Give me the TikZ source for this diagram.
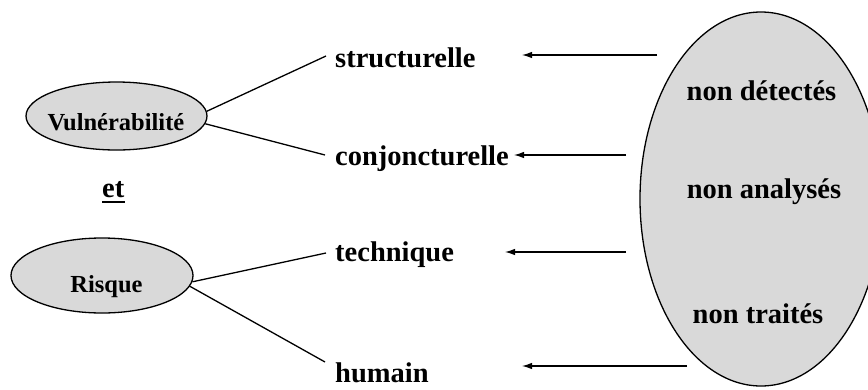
\documentclass[tikz,border=0pt]{standalone}
\usepackage{fontspec}
\setmainfont{Liberation Serif}
\usetikzlibrary{arrows.meta,shapes.geometric}
\definecolor{ellgray}{HTML}{D9D9D9}
\begin{document}
\begin{tikzpicture}[x=1pt,y=-1pt,
  ell/.style={ellipse, draw, line width=1.3pt, fill=ellgray, inner sep=0pt},
  maintext/.style={font=\fontsize{28.5}{30}\selectfont\bfseries, inner sep=0pt},
  smalltext/.style={font=\fontsize{24.5}{26}\selectfont\bfseries, inner sep=0pt},
  link/.style={line width=1.3pt},
  arr/.style={line width=1.2pt, -{Latex[length=10pt,width=6.5pt]}}]
\useasboundingbox (0,0) rectangle (868,389);

% ellipses
\node[ell, minimum width=181pt, minimum height=68pt] (vul) at (116.5,116) {};
\node[ell, minimum width=182pt, minimum height=75pt] (ris) at (102,275.5) {};
\node[ell, minimum width=242pt, minimum height=374pt] (big) at (761,199) {};

% ellipse texts
\node[smalltext, anchor=base] (vult) at (116,130) {Vulnérabilité};
\node[smalltext, anchor=base] (rist) at (106.5,292) {Risque};
\node[maintext, anchor=base] (nd) at (761.5,100) {non détectés};
\node[maintext, anchor=base] (na) at (764,198) {non analysés};
\node[maintext, anchor=base] (nt) at (758,323) {non traités};

% "et"
\node[maintext, anchor=base west] (et) at (102,197) {et};
\draw[line width=1.8pt] ([yshift=-5pt]et.base west) -- ([yshift=-5pt]et.base east);

% labels
\node[maintext, anchor=base west] (str) at (335,67) {structurelle};
\node[maintext, anchor=base west] (con) at (335,165) {conjoncturelle};
\node[maintext, anchor=base west] (tec) at (335,261) {technique};
\node[maintext, anchor=base west] (hum) at (335,382) {humain};

% links from left ellipses
\draw[link] (vul.3) -- ([xshift=-9pt,yshift=11pt]str.base west);
\draw[link] (vul.-5) -- ([xshift=-10pt,yshift=10pt]con.base west);
\draw[link] (ris.-4) -- ([xshift=-9pt,yshift=8pt]tec.base west);
\draw[link] (ris.-7) -- ([xshift=-10pt,yshift=20pt]hum.base west);

% arrows from the big ellipse
\coordinate (t1) at (657,55);  \coordinate (h1) at (522,55);
\coordinate (t2) at (626,155); \coordinate (h2) at (514,155);
\coordinate (t3) at (626,252); \coordinate (h3) at (505,252);
\coordinate (t4) at (687,366); \coordinate (h4) at (522,366);
\draw[arr] (t1) -- (h1);
\draw[arr] (t2) -- (h2);
\draw[arr] (t3) -- (h3);
\draw[arr] (t4) -- (h4);
\end{tikzpicture}
\end{document}
